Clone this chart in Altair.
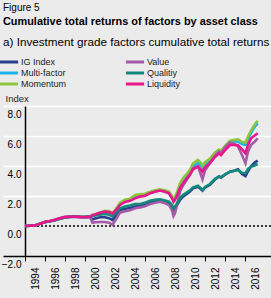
import altair as alt
import pandas as pd

# Time axis (fractional years) shared by every series
years = [1994.0, 1994.5, 1995.0, 1995.5, 1996.0, 1996.5, 1997.0, 1997.5, 1998.0, 1998.5,
         1999.0, 1999.5, 2000.0, 2000.5, 2000.75, 2001.0, 2001.5, 2002.0, 2002.4, 2002.75,
         2003.0, 2003.5, 2004.0, 2004.5, 2005.0, 2005.5, 2006.0, 2006.5, 2007.0, 2007.5,
         2008.0, 2008.4, 2008.7, 2008.85, 2009.0, 2009.25, 2009.5, 2009.8, 2010.2, 2010.5,
         2010.8, 2011.3, 2011.6, 2011.75, 2012.0, 2012.5, 2013.0, 2013.4, 2013.6, 2014.0,
         2014.5, 2015.0, 2015.3, 2015.7, 2016.05, 2016.3, 2016.6, 2017.0, 2017.27]

# Cumulative total returns per factor
ig_index = [0.0, 0.02, 0.04, 0.15, 0.26, 0.32, 0.39, 0.49, 0.57, 0.61,
            0.62, 0.60, 0.59, 0.60, 0.44, 0.50, 0.58, 0.58, 0.52, 0.40,
            0.62, 1.07, 1.15, 1.20, 1.29, 1.33, 1.42, 1.56, 1.63, 1.69,
            1.60, 1.51, 1.30, 1.07, 1.20, 1.45, 1.75, 1.96, 2.15, 2.30,
            2.51, 2.62, 2.45, 2.36, 2.55, 2.75, 3.10, 3.30, 3.22, 3.42,
            3.62, 3.70, 3.78, 3.47, 3.33, 3.65, 3.98, 4.25, 4.36]
multi_factor = [0.0, 0.02, 0.04, 0.15, 0.27, 0.33, 0.40, 0.50, 0.58, 0.62,
                0.63, 0.61, 0.60, 0.63, 0.72, 0.77, 0.88, 0.98, 0.96, 0.85,
                1.00, 1.45, 1.65, 1.72, 1.90, 2.00, 2.05, 2.20, 2.30, 2.38,
                2.30, 2.20, 1.90, 1.68, 1.85, 2.25, 2.70, 3.00, 3.35, 3.60,
                3.96, 4.20, 4.00, 3.85, 4.10, 4.35, 4.70, 4.95, 4.85, 5.20,
                5.55, 5.65, 5.62, 5.47, 5.40, 5.80, 6.20, 6.65, 6.84]
momentum = [0.0, 0.02, 0.04, 0.15, 0.27, 0.33, 0.40, 0.50, 0.58, 0.62,
            0.63, 0.61, 0.60, 0.64, 0.73, 0.78, 0.89, 1.02, 1.00, 0.88,
            1.05, 1.56, 1.75, 1.82, 2.07, 2.11, 2.15, 2.29, 2.38, 2.44,
            2.38, 2.29, 2.00, 1.78, 1.95, 2.35, 2.85, 3.18, 3.50, 3.75,
            4.18, 4.40, 4.20, 4.00, 4.25, 4.50, 4.90, 5.10, 5.00, 5.35,
            5.69, 5.75, 5.78, 5.60, 5.56, 5.96, 6.35, 6.80, 7.02]
value = [0.0, 0.02, 0.04, 0.15, 0.27, 0.34, 0.42, 0.53, 0.61, 0.63,
         0.62, 0.59, 0.57, 0.58, 0.22, 0.25, 0.27, 0.27, 0.22, 0.09,
         0.35, 0.89, 0.98, 1.05, 1.18, 1.24, 1.32, 1.47, 1.55, 1.62,
         1.52, 1.40, 1.05, 0.67, 0.85, 1.55, 2.30, 2.70, 3.10, 3.40,
         3.84, 3.98, 3.40, 3.11, 3.70, 4.20, 4.70, 4.96, 4.85, 5.25,
         5.56, 5.45, 5.30, 4.73, 4.18, 4.96, 5.40, 5.65, 5.84]
quality = [0.0, 0.02, 0.04, 0.15, 0.27, 0.32, 0.39, 0.49, 0.57, 0.61,
           0.63, 0.62, 0.62, 0.64, 0.67, 0.70, 0.76, 0.80, 0.76, 0.64,
           0.82, 1.18, 1.30, 1.36, 1.47, 1.47, 1.55, 1.69, 1.74, 1.78,
           1.70, 1.62, 1.40, 1.18, 1.30, 1.55, 1.85, 2.07, 2.25, 2.38,
           2.58, 2.68, 2.50, 2.40, 2.60, 2.80, 3.15, 3.30, 3.25, 3.45,
           3.62, 3.68, 3.73, 3.55, 3.51, 3.80, 3.95, 4.05, 4.13]
liquidity = [0.0, 0.02, 0.04, 0.15, 0.27, 0.33, 0.41, 0.51, 0.59, 0.62,
             0.63, 0.61, 0.60, 0.63, 0.72, 0.77, 0.88, 0.96, 0.93, 0.84,
             0.98, 1.40, 1.60, 1.68, 1.84, 1.96, 2.02, 2.18, 2.28, 2.36,
             2.28, 2.18, 1.85, 1.62, 1.75, 2.10, 2.55, 2.84, 3.20, 3.45,
             3.78, 3.96, 3.75, 3.62, 3.90, 4.20, 4.60, 4.84, 4.72, 5.05,
             5.40, 5.40, 5.38, 5.11, 4.84, 5.40, 5.85, 6.05, 6.18]

# Drawing order (later series on top); also the legend order, filled column by column
series = {
    "IG Index": ig_index,
    "Multi-factor": multi_factor,
    "Momentum": momentum,
    "Value": value,
    "Qualitiy": quality,
    "Liquidity": liquidity,
}
colors = {
    "IG Index": "#253f8e",
    "Multi-factor": "#1cb3e8",
    "Momentum": "#8cc63f",
    "Value": "#a45aa6",
    "Qualitiy": "#12897a",
    "Liquidity": "#e8168a",
}
names = list(series.keys())

x_ticks = list(range(1994, 2017, 2))
y_ticks = [-2, 0, 2, 4, 6, 8]

rows = []
for name, vals in series.items():
    for yr, v in zip(years, vals):
        rows.append({"year": yr, "series": name, "value": v})
df = pd.DataFrame(rows)

FONT = "Liberation Sans"
BG = "#ebebeb"

x_enc = alt.X(
    "year:Q",
    scale=alt.Scale(domain=[1994, 2018.6], nice=False, zero=False),
    axis=alt.Axis(
        values=x_ticks, tickCount=30, format="d", title=None, grid=False,
        labelAngle=-90, labelAlign="right", labelBaseline="middle",
        labelOffset=10, labelPadding=6, labelFontSize=10, labelColor="#000000",
        labelFont=FONT, tickSize=5, tickColor="#000000", tickWidth=1,
        domainColor="#000000", domainWidth=1.5, labelOverlap=False,
    ),
)
y_enc = alt.Y(
    "value:Q",
    scale=alt.Scale(domain=[-2, 8], nice=False, zero=False),
    axis=alt.Axis(
        values=y_ticks, tickCount=20, format=".1f", title="Index",
        titleAngle=0, titleAlign="left", titleBaseline="middle",
        titleX=-20, titleY=-8, titleFontSize=9.5, titleFontWeight="normal",
        titleColor="#222222", titleFont=FONT,
        labelFontSize=10, labelColor="#000000", labelFont=FONT,
        labelPadding=-18, labelOffset=8, labelBaseline="middle",
        labelOverlap=False, labelFlush=False,
        tickSize=22, tickWidth=1.5,
        tickColor={"condition": [
            {"test": "datum.value === -2", "value": "#000000"},
            {"test": "datum.value === 0", "value": BG},
        ], "value": "#ffffff"},
        grid=True, gridWidth=1.5,
        gridColor={"condition": {"test": "datum.value <= 0", "value": "transparent"},
                   "value": "#ffffff"},
        domainColor="#000000", domainWidth=1.5,
    ),
)

lines = alt.Chart(df).mark_line(strokeWidth=2.6).encode(
    x=x_enc,
    y=y_enc,
    color=alt.Color(
        "series:N",
        scale=alt.Scale(domain=names, range=[colors[k] for k in names]),
        legend=alt.Legend(
            title=None, orient="none", legendX=-21, legendY=-49, columns=2,
            symbolType="M-2.6,0H2.6", symbolSize=49, symbolStrokeWidth=3,
            labelFontSize=9, labelFont=FONT, labelColor="#222222",
            labelOffset=7, columnPadding=52, rowPadding=-1,
        ),
    ),
)

zero_line = alt.Chart(pd.DataFrame({"v": [0]})).mark_rule(
    color="#000000", strokeDash=[2, 2], strokeWidth=1.5
).encode(y="v:Q")

fig_label = alt.Chart(pd.DataFrame({"t": ["Figure 5"]})).mark_text(
    align="left", baseline="alphabetic", font=FONT, fontSize=10, color="#000000"
).encode(text="t:N", x=alt.value(-22), y=alt.value(-95))

heading = alt.Chart(pd.DataFrame({"t": ["Cumulative total returns of factors by asset class"]})).mark_text(
    align="left", baseline="alphabetic", font=FONT, fontSize=10.9, fontWeight="bold", color="#000000"
).encode(text="t:N", x=alt.value(-22), y=alt.value(-81))

subheading = alt.Chart(pd.DataFrame({"t": ["a) Investment grade factors cumulative total returns"]})).mark_text(
    align="left", baseline="alphabetic", font=FONT, fontSize=11.7, color="#000000"
).encode(text="t:N", x=alt.value(-22), y=alt.value(-60))

chart = alt.layer(zero_line, lines, fig_label, heading, subheading).properties(
    width=246, height=150,
    autosize=alt.AutoSizeParams(type="none"),
    padding={"left": 25, "top": 106, "right": 0, "bottom": 42},
    background=BG,
).configure_view(stroke=None)

chart.save("out.html", embed_options={"renderer": "svg", "actions": False})
